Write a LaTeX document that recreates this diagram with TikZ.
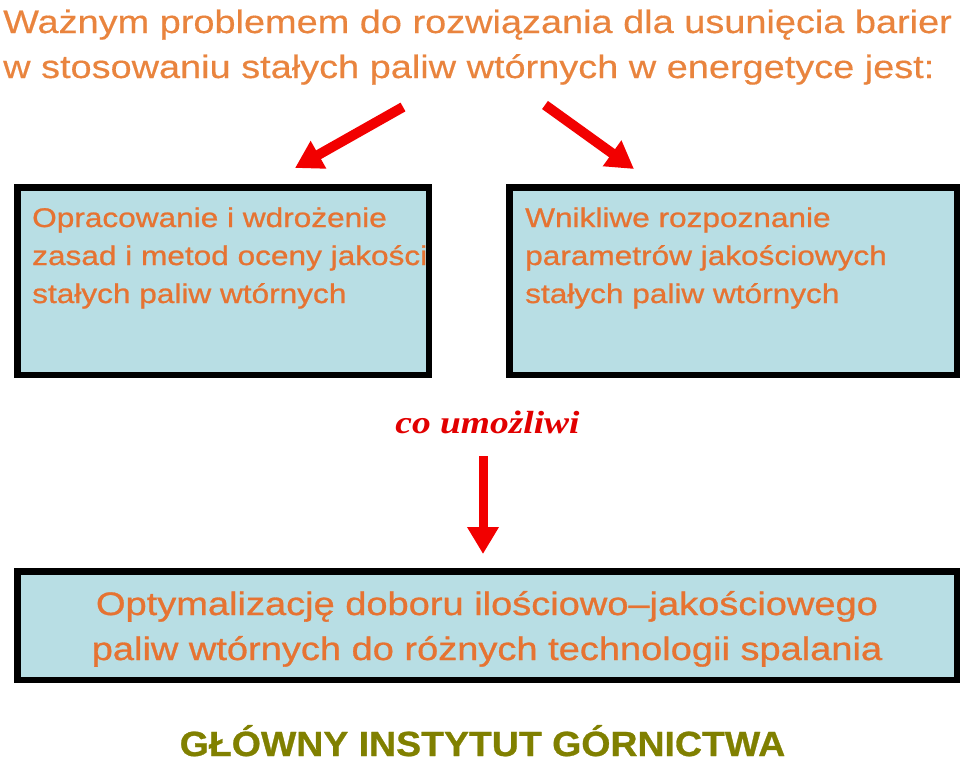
\documentclass[tikz,border=0pt]{standalone}
\usepackage{fontspec}
\setmainfont{Liberation Sans}
\newfontfamily\sw[FakeStretch=1.17,FakeBold=0.4]{Liberation Sans}
\newfontfamily\swb[FakeStretch=1.17,FakeBold=0.9]{Liberation Sans}
\newfontfamily\tw[FakeStretch=1.17]{Liberation Serif}
\newfontfamily\gw[FakeStretch=1.07,FakeBold=0.8]{Liberation Sans}
\usetikzlibrary{arrows.meta}
\definecolor{titleor}{RGB}{233,132,62}
\definecolor{boxor}{RGB}{230,115,50}
\definecolor{boxfill}{RGB}{184,222,228}
\definecolor{arrred}{RGB}{242,0,0}
\definecolor{txtred}{RGB}{225,0,0}
\definecolor{gigolive}{RGB}{128,128,0}
\begin{document}
\begin{tikzpicture}[x=1pt,y=-1pt,
  panel/.style={draw=black, line width=6.5pt, fill=boxfill, inner sep=0pt, outer sep=0pt},
  boxtext/.style={anchor=base west, align=left, inner sep=0pt, text=boxor, font=\swb\fontsize{27}{38}\selectfont},
  redarrow/.style={draw=arrred, line width=10pt, -{Triangle[length=27pt,width=30pt]}}
]
\useasboundingbox (0,0) rectangle (960,764);
% title (anchor = baseline of last line)
\node[anchor=base west, align=left, inner sep=0pt, text=titleor, font=\sw\fontsize{32.4}{45}\selectfont] (title) at (3,78)
  {Ważnym problemem do rozwiązania dla usunięcia barier\\w stosowaniu stałych paliw wtórnych w energetyce jest:};
% boxes
\node[panel, minimum width=411.5pt, minimum height=187.5pt] (lbox) at (223,281) {};
\node[panel, minimum width=447.5pt, minimum height=187.5pt] (rbox) at (733,281) {};
\node[panel, minimum width=939.5pt, minimum height=108.5pt] (bbox) at (487,625.5) {};
\node[boxtext] (ltext) at (32,303) {Opracowanie i wdrożenie\\zasad i metod oceny jakości\\stałych paliw wtórnych};
\node[boxtext] (rtext) at (525,303) {Wnikliwe rozpoznanie\\parametrów jakościowych\\stałych paliw wtórnych};
\node[anchor=base, align=center, inner sep=0pt, text=boxor, font=\swb\fontsize{32.5}{45}\selectfont] (btext) at (487,660)
  {Optymalizację doboru ilościowo–jakościowego\\paliw wtórnych do różnych technologii spalania};
% middle label
\node[anchor=base, inner sep=0pt, text=txtred, font=\tw\bfseries\itshape\fontsize{32}{36}\selectfont] (co) at (487.5,433) {co umożliwi};
% footer
\node[anchor=base, inner sep=0pt, text=gigolive, font=\gw\bfseries\fontsize{35}{40}\selectfont] (gig) at (482.5,756) {GŁÓWNY INSTYTUT GÓRNICTWA};
% arrows
\coordinate (la0) at (403,107);
\coordinate (la1) at (295,168);
\coordinate (ra0) at (545,105);
\coordinate (ra1) at (634,169);
\coordinate (da0) at (483,456);
\coordinate (da1) at (483,554);
\draw[redarrow] (la0) -- (la1);
\draw[redarrow] (ra0) -- (ra1);
\draw[redarrow, line width=9pt] (da0) -- (da1);
\end{tikzpicture}
\end{document}
